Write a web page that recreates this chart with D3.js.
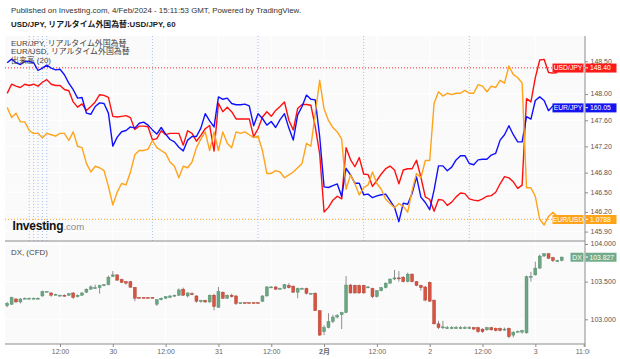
<!DOCTYPE html>
<html><head><meta charset="utf-8">
<script src="https://cdn.jsdelivr.net/npm/d3@7"></script>
<style>
html,body{margin:0;padding:0;background:#fff;}
svg{display:block;font-family:"Liberation Sans",Arial,"Noto Sans CJK JP",sans-serif;}
</style></head><body>
<svg id="c" width="620" height="359"></svg>
<script>
// ---- data (hourly, JST, starting 29 Jan 2024 00:00) ----
const usdjpy=[148.01,148.15,148.12,148.10,148.15,148.13,148.15,148.12,148.18,148.22,148.15,148.13,148.13,148.07,148.05,147.88,147.80,147.85,147.75,147.81,147.88,147.99,147.98,147.95,147.66,147.65,147.66,147.67,147.64,147.46,147.51,147.51,147.50,147.30,147.32,147.44,147.38,147.40,147.40,147.40,147.22,147.44,147.40,147.28,147.37,147.47,147.52,147.13,147.86,147.73,147.80,147.73,147.62,147.62,147.62,147.62,147.35,147.47,147.65,147.73,147.66,147.75,147.81,147.88,147.60,147.45,147.78,147.84,147.84,147.83,147.50,147.09,146.20,146.27,146.38,146.44,146.40,147.18,147.00,146.89,147.03,146.78,146.77,146.59,146.68,146.78,146.86,146.90,146.84,146.63,146.84,146.86,146.86,146.99,146.73,146.43,146.39,146.21,146.39,146.38,146.30,146.35,146.43,146.49,146.48,146.40,146.38,146.37,146.40,146.44,146.45,146.50,146.63,146.74,146.72,146.66,146.56,146.61,147.93,147.88,148.25,148.52,148.53,148.33,148.32,148.33];
const eurjpy=[160.80,160.86,160.80,160.77,160.82,160.82,160.80,160.67,160.71,160.76,160.71,160.68,160.69,160.60,160.46,160.35,160.21,160.22,159.96,159.94,160.07,160.13,160.12,159.96,159.41,159.56,159.65,159.67,159.73,159.71,159.79,159.81,159.76,159.68,159.61,159.72,159.61,159.52,159.48,159.39,159.33,159.51,159.57,159.57,159.71,159.95,159.83,159.73,160.23,160.19,160.21,160.12,160.10,160.10,160.11,160.08,159.75,159.95,159.87,159.76,159.82,159.72,159.85,159.95,159.71,159.51,159.93,160.07,160.26,160.19,160.18,159.57,158.73,158.72,158.75,158.78,158.57,159.04,158.93,158.79,158.79,158.60,158.61,158.55,158.58,158.60,158.61,158.50,158.39,158.15,158.46,158.44,158.62,158.90,158.56,158.47,158.35,158.68,159.08,159.08,159.00,159.06,159.18,159.25,159.25,159.12,159.10,159.18,159.19,159.19,159.26,159.29,159.51,159.60,159.75,159.60,159.48,159.48,159.90,159.86,160.17,160.23,160.17,160.00,160.08,160.05];
const eurusd=[1.0866,1.0859,1.0862,1.0856,1.0856,1.0850,1.0848,1.0848,1.0845,1.0848,1.0847,1.0846,1.0848,1.0848,1.0843,1.0849,1.0839,1.0838,1.0827,1.0821,1.0825,1.0824,1.0822,1.0811,1.0798,1.0807,1.0813,1.0812,1.0821,1.0833,1.0836,1.0836,1.0837,1.0843,1.0838,1.0836,1.0834,1.0828,1.0825,1.0817,1.0825,1.0824,1.0828,1.0838,1.0844,1.0849,1.0836,1.0849,1.0836,1.0849,1.0841,1.0838,1.0849,1.0848,1.0849,1.0847,1.0845,1.0846,1.0836,1.0820,1.0820,1.0822,1.0821,1.0817,1.0819,1.0821,1.0824,1.0827,1.0841,1.0839,1.0862,1.0885,1.0865,1.0857,1.0852,1.0849,1.0844,1.0809,1.0819,1.0813,1.0805,1.0810,1.0812,1.0821,1.0813,1.0809,1.0802,1.0799,1.0796,1.0799,1.0797,1.0793,1.0808,1.0820,1.0817,1.0829,1.0829,1.0869,1.0877,1.0874,1.0876,1.0875,1.0876,1.0876,1.0878,1.0876,1.0876,1.0882,1.0881,1.0877,1.0881,1.0880,1.0885,1.0883,1.0895,1.0889,1.0887,1.0883,1.0810,1.0810,1.0804,1.0788,1.0784,1.0790,1.0793,1.0790];
const dxOpen=[103.18,103.20,103.27,103.23,103.28,103.28,103.28,103.28,103.31,103.37,103.35,103.33,103.32,103.32,103.32,103.35,103.30,103.32,103.36,103.40,103.42,103.42,103.45,103.46,103.57,103.59,103.53,103.50,103.50,103.425,103.29,103.29,103.29,103.29,103.20,103.26,103.28,103.29,103.31,103.32,103.40,103.31,103.34,103.31,103.25,103.25,103.23,103.32,103.16,103.36,103.28,103.32,103.31,103.22,103.222,103.222,103.222,103.222,103.24,103.31,103.43,103.43,103.41,103.41,103.45,103.44,103.36,103.41,103.41,103.345,103.345,103.115,102.835,102.89,102.97,103.03,103.06,103.09,103.455,103.45,103.45,103.45,103.43,103.41,103.30,103.38,103.42,103.48,103.535,103.55,103.56,103.50,103.60,103.50,103.45,103.43,103.49,103.255,102.94,102.90,102.89,102.89,102.89,102.89,102.89,102.89,102.89,102.89,102.87,102.86,102.89,102.88,102.88,102.86,102.88,102.79,102.84,102.83,102.82,103.56,103.59,103.68,103.84,103.87,103.82,103.78,103.78];
const dxHigh=[103.23,103.30,103.28,103.28,103.29,103.29,103.29,103.29,103.38,103.37,103.36,103.34,103.33,103.33,103.35,103.36,103.33,103.36,103.41,103.45,103.46,103.46,103.47,103.58,103.64,103.60,103.54,103.51,103.51,103.43,103.29,103.29,103.29,103.29,103.27,103.29,103.31,103.32,103.33,103.41,103.42,103.36,103.36,103.32,103.26,103.26,103.33,103.34,103.43,103.37,103.33,103.34,103.32,103.22,103.225,103.225,103.225,103.225,103.32,103.44,103.44,103.44,103.42,103.47,103.48,103.45,103.42,103.42,103.42,103.35,103.36,103.12,102.92,103.08,103.06,103.07,103.10,103.575,103.47,103.46,103.46,103.46,103.44,103.42,103.39,103.43,103.49,103.54,103.655,103.64,103.57,103.62,103.61,103.51,103.46,103.44,103.50,103.26,102.98,102.98,102.91,102.91,102.91,102.91,102.91,102.91,102.90,102.90,102.88,102.90,102.90,102.89,102.89,102.89,102.89,102.84,102.85,102.86,103.58,103.63,103.765,103.86,103.88,103.88,103.83,103.79,103.83];
const dxLow=[103.16,103.19,103.22,103.21,103.27,103.27,103.27,103.27,103.30,103.36,103.30,103.32,103.31,103.30,103.31,103.27,103.29,103.31,103.35,103.39,103.41,103.34,103.44,103.45,103.56,103.51,103.48,103.46,103.42,103.24,103.28,103.28,103.28,103.28,103.18,103.25,103.27,103.28,103.30,103.31,103.31,103.29,103.32,103.22,103.22,103.22,103.22,103.12,103.15,103.27,103.27,103.29,103.19,103.21,103.215,103.215,103.215,103.215,103.23,103.30,103.42,103.39,103.40,103.40,103.41,103.35,103.28,103.40,103.33,103.33,103.11,102.78,102.79,102.88,102.95,103.01,102.87,103.08,103.34,103.34,103.34,103.34,103.42,103.28,103.29,103.37,103.41,103.47,103.52,103.50,103.49,103.49,103.49,103.44,103.38,103.24,103.23,102.93,102.87,102.87,102.87,102.87,102.87,102.87,102.87,102.87,102.86,102.82,102.82,102.85,102.85,102.84,102.84,102.85,102.75,102.76,102.83,102.81,102.81,103.50,103.58,103.67,103.83,103.80,103.76,103.76,103.77];
const dxClose=[103.21,103.29,103.23,103.27,103.28,103.28,103.28,103.28,103.37,103.37,103.32,103.33,103.32,103.31,103.34,103.29,103.32,103.35,103.40,103.43,103.42,103.45,103.46,103.56,103.59,103.52,103.49,103.48,103.425,103.28,103.285,103.285,103.285,103.285,103.26,103.28,103.30,103.31,103.32,103.39,103.32,103.35,103.33,103.24,103.25,103.23,103.32,103.17,103.37,103.28,103.32,103.30,103.21,103.22,103.218,103.218,103.218,103.218,103.31,103.43,103.43,103.40,103.41,103.46,103.42,103.36,103.41,103.41,103.345,103.345,103.115,102.79,102.89,102.97,103.03,103.05,103.09,103.455,103.35,103.35,103.35,103.35,103.43,103.30,103.38,103.42,103.48,103.535,103.55,103.545,103.50,103.60,103.50,103.45,103.42,103.255,103.24,102.94,102.89,102.90,102.89,102.89,102.89,102.89,102.89,102.89,102.87,102.835,102.835,102.89,102.86,102.85,102.85,102.87,102.77,102.83,102.84,102.85,103.565,103.57,103.68,103.84,103.87,103.81,103.78,103.78,103.827];
const topTicks=[148.50,148.00,147.60,147.20,146.80,146.50,146.20,145.90];
const dxTicks=[104.0,103.5,103.0];
const timeTicks=[12,24,36,48,60,72,84,96,108,120,131];
const timeLabels=["12:00","30","12:00","31","12:00","2月","12:00","2","12:00","3","11:00"];
const sessionHours=[5,6,7,8,9,33,57,81,105];
const lastUSDJPY=148.40, lastEURJPY=160.05, lastEURUSD=1.0788, lastDX=103.827;

// ---- layout ----
const svg=d3.select('#c');
const L=5, R=585, T=36, MID=241, B=344;
const x=d3.scaleLinear().domain([0,126]).range([7.2,7.2+126*4.401]);
const yUJ=d3.scaleLinear().domain([145.9,148.5]).range([231.6,61.3]);
const yEJ=d3.scaleLinear().domain([158.15,160.05]).range([221.7,107.7]);
const yEU=d3.scaleLinear().domain([1.0788,1.0895]).range([219.3,66]);
const yDX=d3.scaleLinear().domain([103,104]).range([319.3,244]);

const defs=svg.append('defs');
defs.append('clipPath').attr('id','cpTop').append('rect').attr('x',L).attr('y',T).attr('width',R-L).attr('height',MID-T);
defs.append('clipPath').attr('id','cpBot').append('rect').attr('x',L).attr('y',MID).attr('width',R-L).attr('height',B-MID);
defs.append('clipPath').attr('id','cpAx').append('rect').attr('x',0).attr('y',-2).attr('width',589.5).attr('height',20);

// header
svg.append('text').attr('x',11).attr('y',13).attr('font-size',7.9).attr('fill','#333')
  .text('Published on Investing.com, 4/Feb/2024 - 15:11:53 GMT, Powered by TradingView.');
svg.append('text').attr('x',11).attr('y',27).attr('font-size',7.9).attr('font-weight','bold').attr('fill','#1a1a1a')
  .text('USD/JPY, リアルタイム外国為替:USD/JPY, 60');

// pane backgrounds
svg.append('rect').attr('x',L).attr('y',T).attr('width',R-L).attr('height',B-T).attr('fill','#fafafa');

// grid
const grid=svg.append('g');
grid.selectAll('.gv').data(timeTicks.slice(0,-1)).join('line')
  .attr('x1',d=>x(d)).attr('x2',d=>x(d)).attr('y1',T).attr('y2',B).attr('stroke','#ffffff').attr('stroke-width',1);
grid.selectAll('.gh').data(topTicks).join('line')
  .attr('x1',L).attr('x2',R).attr('y1',d=>yUJ(d)).attr('y2',d=>yUJ(d)).attr('stroke','#ffffff');
grid.selectAll('.gh2').data(dxTicks).join('line')
  .attr('x1',L).attr('x2',R).attr('y1',d=>yDX(d)).attr('y2',d=>yDX(d)).attr('stroke','#ffffff');

// top pane
const topG=svg.append('g').attr('clip-path','url(#cpTop)');
topG.selectAll('.sess').data(sessionHours).join('line')
  .attr('x1',d=>x(d)).attr('x2',d=>x(d)).attr('y1',T).attr('y2',MID)
  .attr('stroke','#a9c1ee').attr('stroke-width',1).attr('stroke-dasharray','1,2');
topG.append('line').attr('x1',L).attr('x2',R).attr('y1',yUJ(lastUSDJPY)).attr('y2',yUJ(lastUSDJPY))
  .attr('stroke','#ff2020').attr('stroke-dasharray','1,2');
topG.append('line').attr('x1',L).attr('x2',R).attr('y1',yEU(lastEURUSD)).attr('y2',yEU(lastEURUSD))
  .attr('stroke','#ffa520').attr('stroke-dasharray','1,2');

const mk=(arr,ys)=>d3.line().x((d,i)=>x(i)).y(d=>ys(d))(arr);
topG.append('path').attr('d',mk(usdjpy,yUJ)).attr('fill','none').attr('stroke','#ff1010').attr('stroke-width',1.4).attr('stroke-linejoin','round');
topG.append('path').attr('d',mk(eurjpy,yEJ)).attr('fill','none').attr('stroke','#1010ff').attr('stroke-width',1.4).attr('stroke-linejoin','round');
topG.append('path').attr('d',mk(eurusd,yEU)).attr('fill','none').attr('stroke','#ffa31a').attr('stroke-width',1.4).attr('stroke-linejoin','round');

// legend
const lg=svg.append('g').attr('font-size',7.9).attr('fill','#444');
lg.append('text').attr('x',11).attr('y',46).text('EUR/JPY, リアルタイム外国為替');
lg.append('text').attr('x',11).attr('y',54.3).text('EUR/USD, リアルタイム外国為替');
lg.append('text').attr('x',11).attr('y',62.6).text('出来高 (20)');

// logo
const logo=svg.append('text').attr('x',12.5).attr('y',229.5);
logo.append('tspan').attr('font-size',12).attr('font-weight','bold').attr('fill','#111').attr('letter-spacing',-0.2).text('Investing');
logo.append('tspan').attr('font-size',9.6).attr('fill','#8a8a8a').text('.com');

// bottom pane candles
const botG=svg.append('g').attr('clip-path','url(#cpBot)');
const up='#6ba583', dn='#d75442';
const cg=botG.selectAll('.cd').data(d3.range(dxOpen.length)).join('g');
cg.append('line').attr('x1',i=>x(i)).attr('x2',i=>x(i)).attr('y1',i=>yDX(dxHigh[i])).attr('y2',i=>yDX(dxLow[i]))
  .attr('stroke','#8f8f8f').attr('stroke-width',1);
cg.append('rect').attr('x',i=>x(i)-1.5).attr('width',3)
  .attr('y',i=>yDX(Math.max(dxOpen[i],dxClose[i])))
  .attr('height',i=>Math.max(1,Math.abs(yDX(dxOpen[i])-yDX(dxClose[i]))))
  .attr('fill',i=>dxClose[i]>=dxOpen[i]?up:dn)
  .attr('stroke',i=>dxClose[i]>=dxOpen[i]?'#4f8a66':'#a83a2c').attr('stroke-width',0.4);

svg.append('text').attr('x',11).attr('y',254.5).attr('font-size',7.9).attr('fill','#444').text('DX, (CFD)');

// separators / axes lines
svg.append('line').attr('x1',L).attr('x2',R).attr('y1',MID).attr('y2',MID).attr('stroke','#8c8c8c').attr('stroke-width',1);
svg.append('line').attr('x1',R).attr('x2',R).attr('y1',T).attr('y2',B+3).attr('stroke','#8c8c8c').attr('stroke-width',1);

// right axes
function styleAxis(g){
  g.select('.domain').remove();
  g.selectAll('.tick line').attr('stroke','#8c8c8c');
  g.selectAll('.tick text').attr('fill','#555').attr('font-size',7).attr('dy','0.25em').attr('font-family','"Liberation Sans",Arial,sans-serif');
}
svg.append('g').attr('transform',`translate(${R},0)`)
  .call(d3.axisRight(yUJ).tickValues(topTicks).tickFormat(d3.format('.2f')).tickSize(3).tickPadding(2.5)).call(styleAxis);
svg.append('g').attr('transform',`translate(${R},0)`)
  .call(d3.axisRight(yDX).tickValues(dxTicks).tickFormat(d3.format('.3f')).tickSize(3).tickPadding(2.5)).call(styleAxis);

// bottom time axis
const xa=svg.append('g').attr('transform',`translate(0,${B})`).attr('clip-path','url(#cpAx)')
  .call(d3.axisBottom(x).tickValues(timeTicks).tickFormat((d,i)=>timeLabels[i]).tickSize(3).tickPadding(2));
xa.select('.domain').remove();
xa.selectAll('.tick line').attr('stroke','#8c8c8c');
xa.selectAll('.tick text').attr('fill','#666').attr('font-size',7).attr('font-family','"Liberation Sans",Arial,"Noto Sans CJK JP",sans-serif')
  .attr('font-weight',(d,i)=>timeLabels[i]==='2月'?'bold':'normal');
svg.append('line').attr('x1',L).attr('x2',R).attr('y1',B).attr('y2',B).attr('stroke','#8c8c8c');

// price labels
function priceLabel(name,val,y,color,fmt){
  const g=svg.append('g').attr('font-size',6.8).attr('fill','#fff');
  g.append('rect').attr('x',552.5).attr('y',y-4.3).attr('width',31).attr('height',9).attr('fill',color);
  g.append('text').attr('x',568).attr('y',y+2.6).attr('text-anchor','middle').text(name);
  g.append('rect').attr('x',585.5).attr('y',y-4.3).attr('width',31).attr('height',9).attr('fill',color);
  g.append('line').attr('x1',585.5).attr('x2',588).attr('y1',y).attr('y2',y).attr('stroke','#fff');
  g.append('text').attr('x',590).attr('y',y+2.6).text(fmt(val));
}
priceLabel('USD/JPY',lastUSDJPY,yUJ(lastUSDJPY),'#ff1a1a',d3.format('.2f'));
priceLabel('EUR/JPY',lastEURJPY,yEJ(lastEURJPY),'#1414f0',d3.format('.2f'));
priceLabel('EUR/USD',lastEURUSD,yEU(lastEURUSD),'#ffa31a',d3.format('.4f'));
(function(){
  const y=yDX(lastDX), g=svg.append('g').attr('font-size',6.8).attr('fill','#fff');
  g.append('rect').attr('x',570.5).attr('y',y-4.3).attr('width',13).attr('height',9).attr('fill','#72ab89');
  g.append('text').attr('x',577).attr('y',y+2.6).attr('text-anchor','middle').text('DX');
  g.append('rect').attr('x',585.5).attr('y',y-4.3).attr('width',31).attr('height',9).attr('fill','#72ab89');
  g.append('line').attr('x1',585.5).attr('x2',588).attr('y1',y).attr('y2',y).attr('stroke','#fff');
  g.append('text').attr('x',589.5).attr('y',y+2.6).text(d3.format('.3f')(lastDX));
})();
</script>
</body></html>
